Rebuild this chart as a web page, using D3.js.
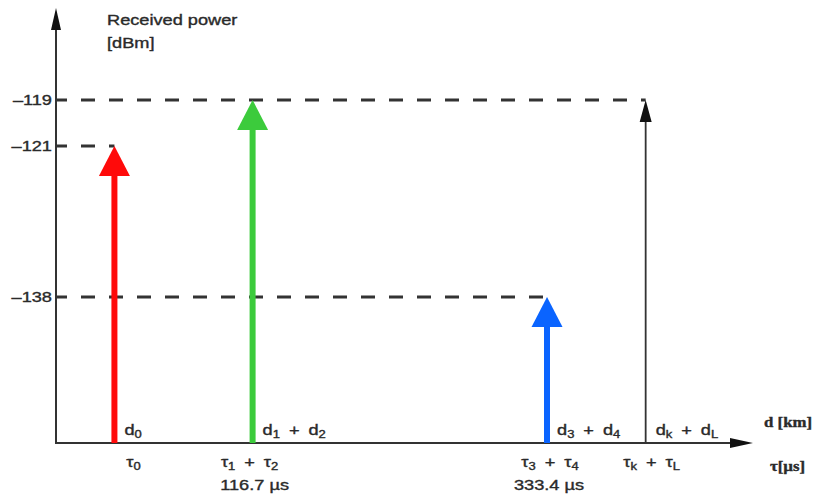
<!DOCTYPE html>
<html>
<head>
<meta charset="utf-8">
<script src="https://cdn.jsdelivr.net/npm/d3@7/dist/d3.min.js"></script>
<style>
  html, body { margin: 0; padding: 0; background: #fff; }
  svg { display: block; }
  text { font-family: "Liberation Sans", Arial, sans-serif; fill: #2a2a2a; stroke: #2a2a2a; stroke-width: 0.35px; }
</style>
</head>
<body>
<svg id="chart" width="815" height="500"></svg>
<script>
// Multipath echoes: arrival delay vs received power
const pathLabels  = ["d_0", "d_1 + d_2", "d_3 + d_4", "d_k + d_L"];
const delayLabels = ["τ_0", "τ_1 + τ_2", "τ_3 + τ_4", "τ_k + τ_L"];
const delayUs     = [15, 116.7, 333.4, 406];          // µs (first and last estimated)
const delayText   = ["", "116.7 µs", "333.4 µs", ""];
const powerDbm    = [-121, -119, -138, -119];
const arrowColors = ["#ff0a0a", "#3ccb3c", "#0a64ff", "#333"];
const powerTicks  = [-119, -121, -138];

const svg = d3.select("#chart");
const ink = "#333";
const SX = 1.3;                     // horizontal stretch of the lettering

const axisTop = 8, axisBottom = 443, axisLeft = 56, axisRight = 753;

const x = d3.scaleLinear().domain([-28, 485]).range([axisLeft, axisRight]);
// schematic (non-uniform) power axis
const y = d3.scaleLinear().domain([-138, -121, -119]).range([297, 146, 100]);

// label with single-character subscripts written as "_c"
function richText(g, str, opts) {
  const t = g.append("text")
    .attr("text-anchor", opts.anchor || "start")
    .style("font-size", (opts.size || 14) + "px")
    .style("word-spacing", (opts.ws || 0) + "px");
  if (opts.family) t.style("font-family", opts.family);
  if (opts.weight) t.style("font-weight", opts.weight);
  const re = /_(.)/g;
  let last = 0, m;
  let lowered = false;
  while ((m = re.exec(str)) !== null) {
    if (m.index > last) {
      t.append("tspan").attr("dy", lowered ? -3 : 0).text(str.slice(last, m.index));
      lowered = false;
    }
    t.append("tspan").attr("dy", lowered ? 0 : 3).style("font-size", "10px").text(m[1]);
    lowered = true;
    last = re.lastIndex;
  }
  if (last < str.length) t.append("tspan").attr("dy", lowered ? -3 : 0).text(str.slice(last));
  return t;
}
function label(px, py, str, opts = {}) {
  const sx = opts.sx || SX;
  const g = svg.append("g").attr("transform", `translate(${px},${py}) scale(${sx},1)`);
  return richText(g, str, opts);
}

// dashed reference levels, each running to the echo that reaches it
const levels = [
  { v: -119, to: x(delayUs[3]) },
  { v: -121, to: x(delayUs[0]) },
  { v: -138, to: x(delayUs[2]) }
];
svg.append("g").selectAll("line").data(levels).join("line")
  .attr("x1", axisLeft).attr("x2", d => d.to)
  .attr("y1", d => y(d.v)).attr("y2", d => y(d.v))
  .attr("stroke", ink).attr("stroke-width", 3)
  .attr("stroke-dasharray", "14,14").attr("stroke-dashoffset", 3);

// axes
svg.append("line").attr("x1", axisLeft).attr("x2", axisLeft)
  .attr("y1", axisBottom + 1).attr("y2", axisTop + 18)
  .attr("stroke", ink).attr("stroke-width", 2);
svg.append("path")
  .attr("d", `M${axisLeft},${axisTop} L${axisLeft + 5},${axisTop + 22} L${axisLeft - 5},${axisTop + 22} Z`)
  .attr("fill", "#111");
svg.append("line").attr("x1", axisLeft - 1).attr("x2", axisRight - 18)
  .attr("y1", axisBottom).attr("y2", axisBottom)
  .attr("stroke", ink).attr("stroke-width", 2);
svg.append("path")
  .attr("d", `M${axisRight},${axisBottom} L${axisRight - 23},${axisBottom - 5} L${axisRight - 23},${axisBottom + 5} Z`)
  .attr("fill", "#111");

// power tick labels
powerTicks.forEach(v => {
  const g = svg.append("g").attr("transform", `translate(52,${y(v) + 5}) scale(${SX},1)`);
  g.append("text").attr("text-anchor", "end").style("font-size", "14px")
    .text("\u2013" + Math.abs(v));
});

// axis titles
label(107, 25, "Received power", { size: 14 });
label(107, 48, "[dBm]", { size: 14 });
label(764, 427, "d [km]", { size: 14, family: "'Liberation Serif', serif", weight: "bold", sx: 1.2 });
label(770, 471, "τ[µs]", { size: 14, family: "'Liberation Serif', serif", weight: "bold", sx: 1.2 });

// echo arrows
const echoes = delayUs.map((d, i) => ({ d, p: powerDbm[i], c: arrowColors[i], i }));
echoes.forEach(e => {
  const cx = x(e.d), tip = y(e.p);
  const thin = e.i === 3;
  const hw = thin ? 6 : 15.5, hh = thin ? 22 : 30;
  svg.append("line")
    .attr("x1", cx).attr("x2", cx)
    .attr("y1", axisBottom).attr("y2", tip + hh - 1)
    .attr("stroke", e.c).attr("stroke-width", thin ? 1.8 : 6);
  svg.append("path")
    .attr("d", `M${cx},${tip} L${cx + hw},${tip + hh} L${cx - hw},${tip + hh} Z`)
    .attr("fill", thin ? "#111" : e.c);
});

// path-length and delay labels under each echo
const tauDx = [19, -3, 3, 6];
echoes.forEach(e => {
  const cx = x(e.d);
  label(cx + 10, 435, pathLabels[e.i], { size: 14, ws: 3 });
  label(cx + tauDx[e.i], 467, delayLabels[e.i], { size: 14, ws: 3, anchor: "middle" });
  if (delayText[e.i]) label(cx + 2, 490, delayText[e.i], { size: 14, anchor: "middle" });
});
</script>
</body>
</html>
